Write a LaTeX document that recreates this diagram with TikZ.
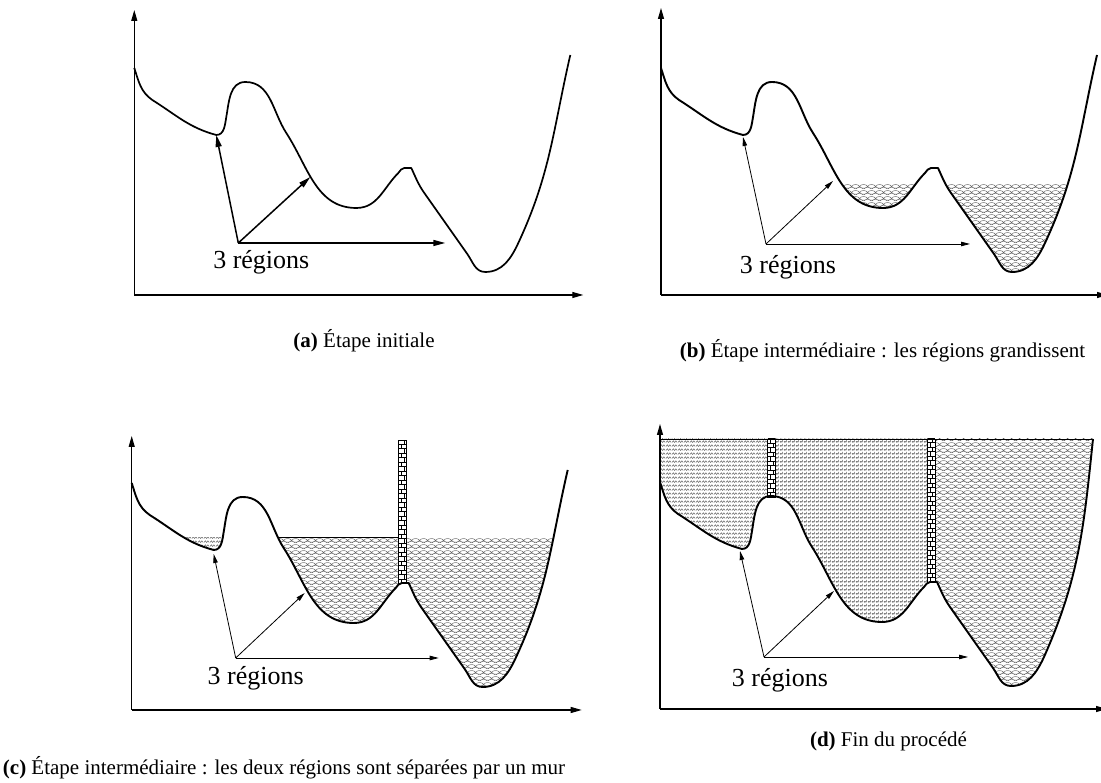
\documentclass[tikz,border=0pt]{standalone}
\usepackage{fontspec}
\setmainfont{Liberation Serif}
\usetikzlibrary{arrows.meta,patterns.meta}
\definecolor{wgray}{RGB}{95,95,95}

% textures of the water
\tikzdeclarepattern{name=zigzag, type=uncolored,
  bounding box={(0pt,0pt) and (6pt,4pt)}, tile size={(6pt,4pt)},
  code={\draw[line width=0.55pt] (0pt,0.6pt) -- (1.5pt,2.8pt) -- (3pt,0.6pt) -- (4.5pt,2.8pt) -- (6pt,0.6pt);}}
\tikzdeclarepattern{name=mesh, type=uncolored,
  bounding box={(0pt,0pt) and (4pt,4pt)}, tile size={(4pt,4pt)},
  code={\draw[line width=0.5pt] (0pt,0pt) -- (4pt,0pt) (0pt,2pt) -- (4pt,2pt) (1pt,0pt) -- (1pt,2pt) (3pt,2pt) -- (3pt,4pt);}}
\tikzdeclarepattern{name=scales, type=uncolored,
  bounding box={(0pt,0pt) and (8pt,6pt)}, tile size={(8pt,6pt)},
  code={\draw[line width=0.5pt] (0pt,0pt) .. controls (2pt,2.8pt) and (6pt,2.8pt) .. (8pt,0pt)
          (-4pt,3pt) .. controls (-2pt,5.8pt) and (2pt,5.8pt) .. (4pt,3pt)
          (4pt,3pt) .. controls (6pt,5.8pt) and (10pt,5.8pt) .. (12pt,3pt)
          (-4pt,3pt) .. controls (-2pt,0.2pt) and (2pt,0.2pt) .. (4pt,3pt)
          (4pt,3pt) .. controls (6pt,0.2pt) and (10pt,0.2pt) .. (12pt,3pt);}}

% the relief, in the frame of one panel
\newcommand\relief[1]{(0,227) to[out=-72,in=145] (18,195) to[out=-32,in=165] (82,160)
  to[out=0,in=-100] (92,178) to[out=80,in=180] (111,213) to[out=0,in=123] (152,162)
  to[out=-57,in=180] (222,87) to[out=0,in=-135] (264,122)
  to[out=45,in=180] (270,127) -- (277,127) to[out=-65,in=125] (290,102)
  -- (333,41) to[out=-55,in=180] (351,23) to[out=0,in=-115] (384,52) #1}
\newcommand\reliefend{to[out=65,in=-103] (436,240)}

% brick wall: x1, x2, y1, y2
\newcommand\brickwall[4]{%
  \begin{scope}
    \clip (#1,#3) rectangle (#2,#4);
    \fill[white] (#1,#3) rectangle (#2,#4);
    \foreach \k in {0,...,32} {
      \pgfmathsetmacro\yb{#3+4.5*\k}
      \pgfmathsetmacro\xv{ifthenelse(mod(\k,2)==0,#1+0.35*(#2-#1),#1+0.68*(#2-#1))}
      \draw[line width=0.5pt] (#1,\yb) -- (#2,\yb) (\xv,\yb) -- (\xv,{\yb+4.5});
    }
  \end{scope}
  \draw[line width=0.9pt] (#1,#3) rectangle (#2,#4);}

\begin{document}
\begin{tikzpicture}[x=1pt,y=1pt,
    axis/.style={line width=1.1pt,-{Triangle[length=11pt,width=6pt]}},
    curve/.style={line width=1.9pt,line join=round},
    pointer/.style={line width=0.8pt,-{Triangle[length=9pt,width=4.5pt]}},
    thickptr/.style={line width=1.5pt,-{Triangle[length=12pt,width=6pt]}},
    level/.style={line width=0.9pt},
    water/.style={pattern=#1,pattern color=wgray},
    lbl/.style={font=\fontsize{26}{30}\selectfont},
    capt/.style={font=\fontsize{21}{25}\selectfont}]
  \useasboundingbox (0,0) rectangle (1101,783);

  % (a) initial step
  \begin{scope}[shift={(134.3,488)}]
    \draw[axis] (0,0) -- (0,285);
    \draw[axis] (0,0) -- (449,0);
    \draw[curve,line width=1.7pt] \relief{\reliefend};
    \coordinate (a-src) at (104,52);
    \coordinate (a-m1) at (82,160);
    \coordinate (a-m2) at (176,118);
    \coordinate (a-m3) at (311,52);
    \node[lbl] (a-lbl) at (127,33) {3 régions};
    \draw[thickptr] (a-src) -- (a-m1);
    \draw[thickptr] (a-src) -- (a-m2);
    \draw[thickptr] (a-src) -- (a-m3);
  \end{scope}
  \node[capt] (cap-a) at (364,442) {\textbf{(a)} Étape initiale};

  % (b) regions grow
  \begin{scope}[shift={(661,488)}]
    \begin{scope}
      \clip (111,0) rectangle (270,110.7);
      \fill[water=scales] \relief{\reliefend} -- (436,300) -- (0,300) -- cycle;
    \end{scope}
    \begin{scope}
      \clip (277,0) rectangle (440,110.7);
      \fill[water=scales] \relief{\reliefend} -- (436,300) -- (0,300) -- cycle;
    \end{scope}
    \draw[axis] (0,0) -- (0,287);
    \draw[axis] (0,0) -- (447,0);
    \draw[curve] \relief{\reliefend};
    \coordinate (b-src) at (105,51);
    \coordinate (b-m1) at (82,158);
    \coordinate (b-m2) at (172,114);
    \coordinate (b-m3) at (309,51);
    \node[lbl] (b-lbl) at (127,28) {3 régions};
    \draw[pointer] (b-src) -- (b-m1);
    \draw[pointer] (b-src) -- (b-m2);
    \draw[pointer] (b-src) -- (b-m3);
  \end{scope}
  \node[capt] (cap-b) at (882.5,432) {\textbf{(b)} Étape intermédiaire : les régions grandissent};

  % (c) a wall between two regions
  \begin{scope}[shift={(131.7,73)}]
    \begin{scope}
      \clip (0,0) rectangle (111,172.7);
      \fill[water=zigzag] \relief{\reliefend} -- (436,300) -- (0,300) -- cycle;
    \end{scope}
    \begin{scope}
      \clip (111,0) rectangle (266.7,172.7);
      \fill[water=scales] \relief{\reliefend} -- (436,300) -- (0,300) -- cycle;
    \end{scope}
    \begin{scope}
      \clip (275,0) rectangle (440,172.7);
      \fill[water=scales] \relief{\reliefend} -- (436,300) -- (0,300) -- cycle;
    \end{scope}
    \draw[level] (146,172.7) -- (266.7,172.7);
    \brickwall{266.7}{275}{126.7}{269.3}
    \draw[axis] (0,0) -- (0,274);
    \draw[axis] (0,0) -- (450,0);
    \draw[curve] \relief{\reliefend};
    \coordinate (c-src) at (104,52);
    \coordinate (c-m1) at (82,156);
    \coordinate (c-m2) at (173,117);
    \coordinate (c-m3) at (307,52);
    \node[lbl] (c-lbl) at (124,32) {3 régions};
    \draw[pointer] (c-src) -- (c-m1);
    \draw[pointer] (c-src) -- (c-m2);
    \draw[pointer] (c-src) -- (c-m3);
  \end{scope}
  \node[capt] (cap-c) at (284,15) {\textbf{(c)} Étape intermédiaire : les deux régions sont séparées par un mur};

  % (d) end of the process
  \begin{scope}[shift={(660,74)}]
    \begin{scope}
      \clip (0,0) rectangle (107.7,270);
      \fill[water=zigzag] \relief{to[out=66,in=-96] (433,270)} -- (433,300) -- (0,300) -- cycle;
    \end{scope}
    \begin{scope}
      \clip (115.7,0) rectangle (267.3,270);
      \fill[water=mesh] \relief{to[out=66,in=-96] (433,270)} -- (433,300) -- (0,300) -- cycle;
    \end{scope}
    \begin{scope}
      \clip (275,0) rectangle (440,270);
      \fill[water=scales] \relief{to[out=66,in=-96] (433,270)} -- (433,300) -- (0,300) -- cycle;
    \end{scope}
    \draw[level] (0,270) -- (433,270);
    \brickwall{107.7}{115.7}{212}{270}
    \brickwall{267.3}{275}{127}{270}
    \draw[axis] (0,0) -- (0,285);
    \draw[axis] (0,0) -- (447,0);
    \draw[curve] \relief{to[out=66,in=-96] (433,270)};
    \coordinate (d-src) at (104,52);
    \coordinate (d-m1) at (80,158);
    \coordinate (d-m2) at (174,118);
    \coordinate (d-m3) at (308,52);
    \node[lbl] (d-lbl) at (120,29) {3 régions};
    \draw[pointer] (d-src) -- (d-m1);
    \draw[pointer] (d-src) -- (d-m2);
    \draw[pointer] (d-src) -- (d-m3);
  \end{scope}
  \node[capt] (cap-d) at (888.5,42) {\textbf{(d)} Fin du procédé};
\end{tikzpicture}
\end{document}
